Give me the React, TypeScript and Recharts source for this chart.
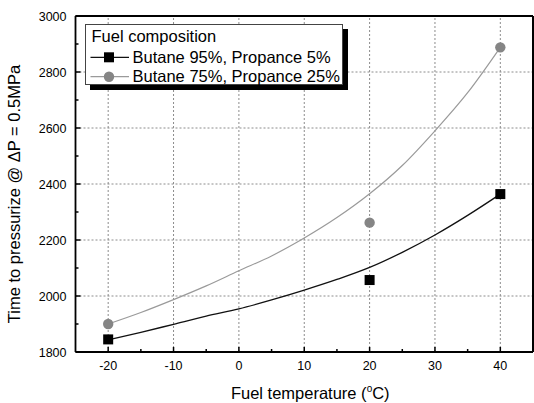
import React from 'react';
import { ComposedChart, Line, Scatter, XAxis, YAxis, ReferenceLine, Legend } from 'recharts';

const xTicks = [-20, -10, 0, 10, 20, 30, 40];
const xMinorTicks = [-15, -5, 5, 15, 25, 35];
const yTicks = [1800, 2000, 2200, 2400, 2600, 2800, 3000];
const yMinorTicks = [1900, 2100, 2300, 2500, 2700, 2900];
const xDomain = [-25, 45];
const yDomain = [1800, 3000];

// measured points
const temps = [-20, 20, 40];
const butane95 = [1845, 2057, 2364];
const butane75 = [1900, 2262, 2888];

// fitted curves
const fitTemps = [-20, -15, -10, -5, 0, 5, 10, 15, 20, 25, 30, 35, 40];
const fit95 = [1843, 1870, 1899, 1928, 1954, 1986, 2021, 2059, 2102, 2156, 2218, 2288, 2364];
const fit75 = [1900, 1941, 1987, 2036, 2090, 2143, 2207, 2280, 2365, 2466, 2590, 2726, 2888];

const series1Name = 'Butane 95%, Propance 5%';
const series2Name = 'Butane 75%, Propance 25%';
const legendTitle = 'Fuel composition';

const pts95 = temps.map((x, i) => ({ x, y: butane95[i] }));
const pts75 = temps.map((x, i) => ({ x, y: butane75[i] }));
const curve95 = fitTemps.map((x, i) => ({ x, y: fit95[i] }));
const curve75 = fitTemps.map((x, i) => ({ x, y: fit75[i] }));

const allXTicks = [...xTicks, ...xMinorTicks].sort((a, b) => a - b);
const allYTicks = [...yTicks, ...yMinorTicks].sort((a, b) => a - b);

const FONT = '"Liberation Sans", Arial, Helvetica, sans-serif';
const C_BLACK = '#000000';
const C_GRAY_LINE = '#9a9a9a';
const C_GRAY_PT = '#858585';
const C_GRID = '#8c8c8c';

const SquareShape = (p: any) => (
  <rect x={p.cx - 5} y={p.cy - 5} width={10} height={10} fill={C_BLACK} />
);
const CircleShape = (p: any) => <circle cx={p.cx} cy={p.cy} r={5.2} fill={C_GRAY_PT} />;

const XTick = (p: any) => {
  const v = p.payload.value;
  const major = xTicks.includes(v);
  const len = major ? 5 : 3;
  return (
    <g>
      <line x1={p.x} y1={p.y} x2={p.x} y2={p.y - len} stroke="#000" strokeWidth={1.5} />
      {major && (
        <text x={p.x} y={p.y + 18} textAnchor="middle" fontFamily={FONT} fontSize={12.5} fill="#000">
          {v}
        </text>
      )}
    </g>
  );
};

const YTick = (p: any) => {
  const v = p.payload.value;
  const major = yTicks.includes(v);
  const len = major ? 5 : 3;
  return (
    <g>
      <line x1={p.x} y1={p.y} x2={p.x + len} y2={p.y} stroke="#000" strokeWidth={1.5} />
      {major && (
        <text x={p.x - 9} y={p.y + 4.5} textAnchor="end" fontFamily={FONT} fontSize={12.5} fill="#000">
          {v}
        </text>
      )}
    </g>
  );
};

const XLabel = (props: any) => {
  const vb = props.viewBox || {};
  const cx = vb.x + vb.width / 2 + 6;
  return (
    <text x={cx} y={399} textAnchor="middle" fontFamily={FONT} fontSize={16.5} fill="#000">
      <tspan>Fuel temperature (</tspan>
      <tspan dy={-7} fontSize={10}>o</tspan>
      <tspan dy={7}>C)</tspan>
    </text>
  );
};

const YLabel = (props: any) => {
  const vb = props.viewBox || {};
  const cy = vb.y + vb.height / 2 + 10;
  return (
    <text x={20} y={cy} transform={`rotate(-90, 20, ${cy})`} textAnchor="middle" fontFamily={FONT} fontSize={16.5} fill="#000">
      Time to pressurize @ ΔP = 0.5MPa
    </text>
  );
};

const LegendBox = () => (
  <svg width={265} height={68} style={{ display: 'block' }}>
    <rect x={5} y={5} width={258} height={61} fill="#000" />
    <rect x={0.5} y={0.5} width={257} height={60} fill="#fff" stroke="#444" strokeWidth={1} />
    <text x={6.5} y={17.7} fontFamily={FONT} fontSize={16.5} fill="#000">
      {legendTitle}
    </text>
    <line x1={5.5} y1={33.3} x2={44} y2={33.3} stroke="#111" strokeWidth={1.3} />
    <rect x={19} y={28.3} width={10} height={10} fill={C_BLACK} />
    <text x={47.5} y={39.3} fontFamily={FONT} fontSize={16.5} fill="#000">
      {series1Name}
    </text>
    <line x1={5.5} y1={52.7} x2={44} y2={52.7} stroke={C_GRAY_LINE} strokeWidth={1.2} />
    <circle cx={24} cy={52.7} r={5.2} fill={C_GRAY_PT} />
    <text x={47.5} y={58.3} fontFamily={FONT} fontSize={16.5} fill="#000">
      {series2Name}
    </text>
  </svg>
);

export default function App() {
  return (
    <div style={{ position: 'absolute', left: 0, top: 0, width: 534, height: 403, background: '#fff' }}>
      <ComposedChart width={534} height={403} margin={{ top: 16, right: 1, bottom: 0, left: 0 }} style={{ fontFamily: FONT }}>
        <XAxis type="number" dataKey="x" domain={xDomain} ticks={allXTicks} interval={0} tickSize={0} tickMargin={0}
          tick={<XTick />} tickLine={false} axisLine={{ stroke: '#000', strokeWidth: 1.8 }} height={51} label={<XLabel />} />
        <YAxis type="number" domain={yDomain} ticks={allYTicks} interval={0} tickSize={0} tickMargin={0}
          tick={<YTick />} tickLine={false} axisLine={{ stroke: '#000', strokeWidth: 1.8 }} width={75.5} label={<YLabel />} />
        {xTicks.map((v) => (
          <ReferenceLine key={'gx' + v} x={v} stroke={C_GRID} strokeWidth={1} strokeDasharray="2 2" ifOverflow="visible" />
        ))}
        {yTicks.slice(1, -1).map((v) => (
          <ReferenceLine key={'gy' + v} y={v} stroke={C_GRID} strokeWidth={1} strokeDasharray="2 2" ifOverflow="visible" />
        ))}
        <ReferenceLine y={yDomain[1]} stroke="#000" strokeWidth={2} ifOverflow="visible" />
        <ReferenceLine x={xDomain[1]} stroke="#000" strokeWidth={2} ifOverflow="visible" />
        <Line data={curve75} dataKey="y" type="monotone" stroke={C_GRAY_LINE} strokeWidth={1.2} dot={false} activeDot={false} isAnimationActive={false} />
        <Line data={curve95} dataKey="y" type="monotone" stroke="#111" strokeWidth={1.3} dot={false} activeDot={false} isAnimationActive={false} />
        <Scatter data={pts75} dataKey="y" shape={CircleShape} isAnimationActive={false} />
        <Scatter data={pts95} dataKey="y" shape={SquareShape} isAnimationActive={false} />
        <Legend
          layout="vertical"
          align="center"
          verticalAlign="middle"
          content={() => <LegendBox />}
          wrapperStyle={{ position: 'absolute', left: 85, top: 24, width: 265, height: 68, margin: 0, padding: 0 }}
        />
      </ComposedChart>
    </div>
  );
}
